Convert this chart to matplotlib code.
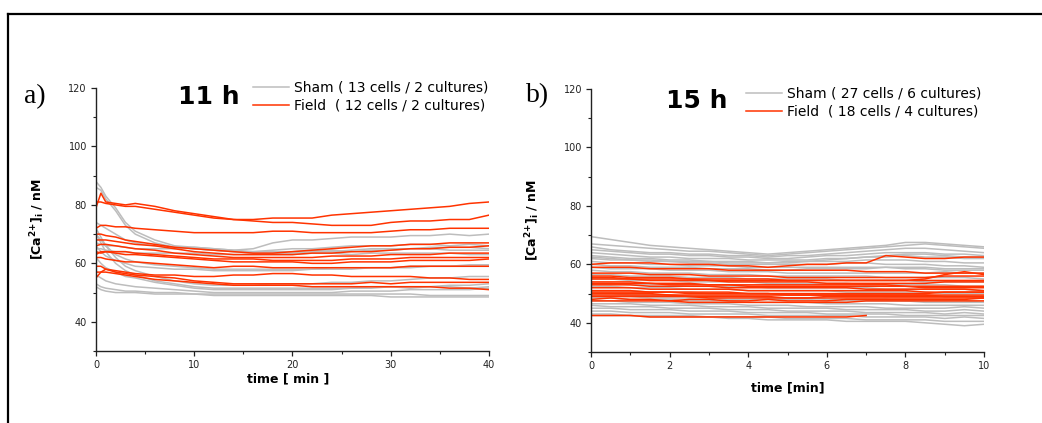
import numpy as np
import matplotlib.pyplot as plt
from matplotlib.lines import Line2D

# panel a: 11 h, time in minutes
t_a = [0, 0.5, 1, 2, 3, 4, 6, 8, 10, 12, 14, 16, 18, 20, 22, 24, 26, 28, 30, 32, 34, 36, 38, 40]

sham_a = [
    [88, 86, 83, 79, 74, 71, 68, 66, 65.5, 65, 64.5, 65, 67, 68, 68, 68.5, 69, 69, 69, 69.5, 69.5, 70, 69.5, 70],
    [86, 85, 82, 78, 73, 70, 67, 65.5, 65, 64.5, 64, 64, 64.5, 65, 65, 65.5, 66, 66, 66, 66.5, 66.5, 66, 66.5, 66],
    [74, 73, 72, 70, 68, 67, 66, 65.5, 65, 64.5, 64, 63.5, 63.5, 63.5, 64, 64, 64.5, 65, 65, 65, 65.5, 65.5, 65.5, 65],
    [67, 66.5, 66, 66, 65.5, 65, 65, 65, 65.5, 65, 64.5, 64, 64, 64, 64.5, 64.5, 64, 64.5, 64.5, 65, 65, 64.5, 64.5, 64.5],
    [65, 65, 64.5, 64, 64, 63.5, 63.5, 63.5, 63.5, 63, 63, 63, 63, 63, 63.5, 63.5, 63, 63.5, 63.5, 63.5, 63.5, 63.5, 63, 63],
    [70, 68, 66, 63, 61.5, 60.5, 59.5, 59, 58.5, 58, 58, 58, 58, 58, 58, 58.5, 58.5, 58.5, 58.5, 59, 59, 59, 59.5, 59.5],
    [66, 64, 62.5, 61, 60, 59, 58.5, 58, 58, 57.5, 57.5, 57.5, 57.5, 57.5, 58, 58, 58, 58.5, 58.5, 58.5, 59, 59, 59, 59],
    [72, 69, 66, 62, 59, 57.5, 55.5, 54, 53, 52.5, 52.5, 52.5, 53, 53, 53, 53.5, 53.5, 54, 54, 54.5, 55, 55, 55.5, 55.5],
    [70, 67, 64, 60, 57.5, 56, 54, 53, 52, 51.5, 51.5, 51.5, 51.5, 51.5, 51.5, 51.5, 51.5, 52, 52, 52, 52, 52.5, 52.5, 53],
    [62, 60, 58.5, 57, 55.5, 55, 53.5, 52.5, 51.5, 51, 51, 51, 51, 51, 51, 51, 51.5, 51.5, 52, 51.5, 52, 52, 51.5, 52],
    [56, 55, 54, 53, 52.5, 52, 51.5, 51, 50.5, 50, 50, 50, 50, 50, 50, 50, 50.5, 50.5, 50.5, 51, 51, 51, 51, 51.5],
    [53, 52, 51.5, 51, 50.5, 50.5, 50, 50, 49.5, 49.5, 49.5, 49.5, 49.5, 49.5, 49.5, 49.5, 49.5, 49.5, 49.5, 49.5, 49, 49, 49, 49],
    [52, 51, 50.5, 50, 50, 50, 49.5, 49.5, 49.5, 49, 49, 49, 49, 49, 49, 49, 49, 49, 48.5, 48.5, 48.5, 48.5, 48.5, 48.5],
]

field_a = [
    [79, 84, 81, 80.5, 80, 80.5, 79.5, 78, 77, 76, 75, 75, 75.5, 75.5, 75.5, 76.5, 77, 77.5, 78, 78.5, 79, 79.5, 80.5, 81],
    [81, 81, 80.5, 80, 79.5, 79.5, 78.5, 77.5, 76.5, 75.5, 75, 74.5, 74, 74, 73.5, 73, 73, 73, 74, 74.5, 74.5, 75, 75, 76.5],
    [72, 73, 73, 72.5, 72.5, 72, 71.5, 71, 70.5, 70.5, 70.5, 70.5, 71, 71, 70.5, 70.5, 70.5, 70.5, 71, 71.5, 71.5, 72, 72, 72],
    [70, 70, 69.5, 69, 68, 67.5, 66.5, 65.5, 65, 64.5, 64, 63.5, 63.5, 64, 64.5, 65, 65.5, 66, 66, 66.5, 66.5, 67, 67, 67],
    [68, 68, 68, 67.5, 67, 66.5, 66, 65, 64, 63.5, 63, 63, 63, 63, 63.5, 63.5, 64, 64, 64.5, 65, 65, 65.5, 65.5, 66],
    [66, 66.5, 66.5, 66, 65.5, 65, 64.5, 63.5, 63, 62.5, 62, 62, 62, 62, 62, 62.5, 62.5, 62.5, 63, 63, 63, 63.5, 63.5, 63.5],
    [64, 63.5, 64, 64, 64, 63.5, 63, 62.5, 62, 61.5, 61.5, 61.5, 61, 61, 61, 61, 61.5, 61.5, 61.5, 62, 62, 62, 62, 62],
    [63, 64, 64, 63.5, 63, 63, 62.5, 62, 61.5, 61, 60.5, 60.5, 60.5, 60.5, 60, 60, 60.5, 60.5, 60.5, 61, 61, 61, 61, 61.5],
    [62, 62, 61.5, 61, 60.5, 60.5, 60, 59.5, 59, 58.5, 59, 59, 58.5, 58.5, 58.5, 58.5, 58.5, 58.5, 58.5, 59, 59, 59, 59, 59],
    [55, 57, 58, 57.5, 57, 56.5, 56, 56, 55.5, 55.5, 56, 56, 56.5, 56.5, 56, 56, 55.5, 55.5, 55.5, 55.5, 55, 55, 54.5, 54.5],
    [59, 59, 58, 57, 56.5, 56, 55.5, 55, 54, 53.5, 53, 53, 53, 53, 53, 53, 53, 53.5, 53, 53.5, 53.5, 53.5, 53.5, 53.5],
    [57, 57, 57, 56.5, 56, 55.5, 54.5, 54, 53.5, 53, 52.5, 52.5, 52.5, 52.5, 52, 52, 52, 52, 52, 52, 52, 51.5, 51.5, 51],
]

# panel b: 15 h
t_b = [0, 0.5, 1, 1.5, 2, 2.5, 3, 3.5, 4, 4.5, 5, 5.5, 6, 6.5, 7, 7.5, 8, 8.5, 9, 9.5, 10]

sham_b = [
    [69.5, 68.5, 67.5, 66.5, 66, 65.5, 65, 64.5, 64, 63.5, 64, 64.5, 65, 65.5, 66, 66.5, 67.5, 67.5, 67, 66.5, 66],
    [67, 66.5, 66, 65.5, 65, 64.5, 64.5, 64, 63.5, 63, 63.5, 64, 64.5, 65, 65.5, 66, 66.5, 67, 66.5, 66, 65.5],
    [66, 65, 64.5, 64, 64, 63.5, 63.5, 63, 63, 62.5, 63, 63, 63.5, 64, 64.5, 65, 65.5, 65.5, 65, 64.5, 64],
    [65, 64.5, 64, 63.5, 63.5, 63, 63, 62.5, 62.5, 62, 62, 62.5, 63, 63, 63.5, 64, 64, 64, 63.5, 63.5, 63],
    [64, 63.5, 63, 62.5, 62.5, 62, 62, 62, 61.5, 61.5, 61.5, 61.5, 62, 62, 62.5, 62.5, 63, 62.5, 62.5, 62, 62],
    [63, 62.5, 62, 62, 61.5, 61.5, 61, 61, 61, 60.5, 60.5, 61, 61, 61, 61.5, 61.5, 61.5, 61, 61, 60.5, 60.5],
    [62.5, 62, 61.5, 61.5, 61, 61, 61, 60.5, 60.5, 60.5, 61, 61, 61.5, 62, 62.5, 63, 63.5, 63.5, 63, 62.5, 62.5],
    [62, 61.5, 61.5, 61, 61, 60.5, 60.5, 60, 60, 60, 60, 60, 60, 60.5, 60.5, 60, 60, 60, 59.5, 59.5, 59],
    [61, 60.5, 60.5, 60, 60, 59.5, 59.5, 59.5, 59, 59, 59, 59, 59, 59, 59, 59, 58.5, 58.5, 58, 58, 58],
    [60, 59.5, 59.5, 59, 59, 59, 58.5, 58.5, 58.5, 58, 58, 58.5, 58.5, 58.5, 58.5, 59, 59, 59, 58.5, 58.5, 58.5],
    [59, 58.5, 58.5, 58.5, 58, 58, 58, 57.5, 57.5, 57.5, 57, 57, 57, 57, 57, 57, 57, 57, 57.5, 57, 57],
    [58, 57.5, 57.5, 57, 57, 57, 56.5, 56.5, 56.5, 56, 56, 56, 56, 56, 56, 55.5, 55.5, 55.5, 55.5, 55.5, 55],
    [56.5, 56.5, 56, 56, 56, 55.5, 55.5, 55.5, 55, 55, 55, 55, 55, 54.5, 54.5, 54.5, 54.5, 54, 54, 54, 54],
    [55, 55, 54.5, 54.5, 54.5, 54, 54, 54, 54, 53.5, 53.5, 53.5, 53.5, 53.5, 53, 53, 53, 53, 53, 52.5, 52.5],
    [53.5, 53.5, 53, 53, 53, 52.5, 52.5, 52.5, 52.5, 52, 52, 52, 52, 52, 52, 51.5, 51.5, 51.5, 51.5, 51.5, 51],
    [52.5, 52.5, 52, 52, 52, 51.5, 51.5, 51.5, 51, 51, 51, 51, 51, 50.5, 50.5, 50.5, 50.5, 50.5, 50, 50, 50],
    [51, 51, 51, 50.5, 50.5, 50.5, 50, 50, 50, 50, 49.5, 49.5, 49.5, 49.5, 49.5, 49, 49, 49, 49, 49, 48.5],
    [50, 50, 49.5, 49.5, 49.5, 49, 49, 49, 49, 48.5, 48.5, 48.5, 48, 48, 48, 48, 47.5, 47.5, 47.5, 47.5, 47],
    [49, 49, 49, 48.5, 48.5, 48.5, 48.5, 48, 48, 48, 48, 48, 47.5, 47.5, 47.5, 47.5, 47.5, 47, 47, 47, 47],
    [48.5, 48.5, 48, 48, 48, 47.5, 47.5, 47.5, 47, 47, 47, 47, 46.5, 46.5, 46.5, 46.5, 46, 46, 46, 46, 46],
    [47.5, 47.5, 47, 47, 47, 46.5, 46.5, 46.5, 46, 46, 46, 45.5, 45.5, 45.5, 45.5, 45, 45, 45, 45, 45.5, 45],
    [46.5, 46.5, 46.5, 46, 46, 46, 45.5, 45.5, 45.5, 45, 45, 45, 45, 44.5, 44.5, 44.5, 44.5, 44, 44, 44.5, 44],
    [46, 45.5, 45.5, 45.5, 45, 45, 45, 44.5, 44.5, 44.5, 44, 44, 44, 44, 43.5, 43.5, 43.5, 43.5, 43, 43.5, 43],
    [45, 45, 44.5, 44.5, 44.5, 44, 44, 44, 43.5, 43.5, 43.5, 43.5, 43, 43, 43, 43, 42.5, 42.5, 42.5, 42.5, 42.5],
    [44, 44, 43.5, 43.5, 43.5, 43, 43, 43, 43, 42.5, 42.5, 42.5, 42.5, 42.5, 42, 42, 42, 42, 41.5, 42, 41.5],
    [43, 43, 42.5, 42.5, 42.5, 42.5, 42, 42, 42, 42, 41.5, 41.5, 41.5, 41.5, 41, 41, 41, 41, 40.5, 40.5, 40.5],
    [42.5, 42.5, 42.5, 42, 42, 42, 42, 41.5, 41.5, 41, 41, 41, 41, 40.5, 40.5, 40.5, 40.5, 40, 39.5, 39, 39.5],
]

field_b = [
    [60, 60.5, 60.5, 60.5, 60, 60, 60, 59.5, 59.5, 59, 59.5, 60, 60, 60.5, 60.5, 63, 62.5, 62, 62, 62.5, 62.5],
    [59, 59, 59, 58.5, 58.5, 58.5, 58.5, 58, 58, 58, 58, 58, 58, 58, 57.5, 57.5, 57.5, 57, 57, 57, 57],
    [57, 57, 57, 56.5, 56.5, 56.5, 56, 56, 56, 56, 55.5, 55.5, 55.5, 55.5, 55.5, 55.5, 55.5, 55.5, 56, 56, 56],
    [56, 56, 55.5, 55.5, 55.5, 55, 55, 55, 55, 55, 54.5, 54.5, 54.5, 54.5, 54.5, 54.5, 54.5, 55, 56.5, 57.5, 56.5],
    [55.5, 55.5, 55, 55, 55, 55, 54.5, 54.5, 54.5, 54.5, 54.5, 54.5, 54.5, 54.5, 54.5, 54.5, 54.5, 54.5, 54.5, 54.5, 54.5],
    [55, 55, 55, 54.5, 54.5, 54.5, 54.5, 54, 54, 54, 54, 54, 53.5, 53.5, 53.5, 53.5, 53.5, 53.5, 54, 54, 54],
    [54, 54, 54, 53.5, 53.5, 53.5, 53, 53, 53, 53, 53, 53, 53, 53, 53, 53, 52.5, 52.5, 52.5, 52.5, 52.5],
    [53.5, 53.5, 53.5, 53.5, 53, 53, 53, 53, 52.5, 52.5, 52.5, 52.5, 52.5, 52.5, 52.5, 52.5, 52.5, 52, 52, 52, 52],
    [53, 53, 53, 52.5, 52.5, 52.5, 52.5, 52, 52, 52, 52, 52, 52, 52, 51.5, 51.5, 51.5, 51.5, 51.5, 51.5, 51],
    [52, 52, 52, 51.5, 51.5, 51.5, 51.5, 51.5, 51, 51, 51, 51, 51, 51, 51, 51, 51, 50.5, 50.5, 50.5, 50.5],
    [51, 51, 51, 50.5, 50.5, 50.5, 50.5, 50.5, 50, 50, 50, 50, 50, 50, 50, 50, 50, 50, 50.5, 50.5, 50.5],
    [50.5, 50.5, 50.5, 50.5, 50.5, 50, 50, 50, 50, 50, 49.5, 49.5, 49.5, 49.5, 49.5, 49.5, 49.5, 49.5, 49, 49, 49],
    [50, 50, 50, 50, 49.5, 49.5, 49.5, 49.5, 49.5, 49.5, 49.5, 49.5, 49.5, 49.5, 49.5, 49.5, 49.5, 49.5, 49.5, 49.5, 49.5],
    [49.5, 49.5, 49.5, 49.5, 49.5, 49, 49, 49, 49, 49, 48.5, 48.5, 48.5, 48.5, 48.5, 48.5, 48.5, 48.5, 48.5, 48.5, 48.5],
    [49, 49, 49, 49, 49, 49, 48.5, 48.5, 48.5, 48.5, 48.5, 48.5, 49, 49, 49, 49, 49, 49, 49, 49, 49],
    [48, 48.5, 48, 48, 47.5, 48, 48, 47.5, 47.5, 48, 47.5, 47.5, 47.5, 48, 48, 48, 48, 48, 48, 48, 48.5],
    [47.5, 47.5, 47.5, 47.5, 47.5, 47, 47, 47, 47, 47, 47, 47, 47, 47, 47.5, 47.5, 47.5, 47.5, 47.5, 47.5, 47.5],
    [42.5, 42.5, 42.5, 42, 42, 42, 42, 42, 42, 42, 42, 42, 42, 42, 42.5, None, None, None, None, None, None],
]

sham_color = '#bdbdbd'
field_color = '#ff3300'

plt.rcParams['mathtext.default'] = 'bf'


def panel(ax, t, sham, field, xticks, xlabel, sham_label, field_label):
    for i, y in enumerate(sham):
        y = np.array(y, dtype=float)
        ax.plot(t, y, color=sham_color, lw=1.1, label=sham_label if i == 0 else None)
    for i, y in enumerate(field):
        y = np.array(y, dtype=float)
        ax.plot(t, y, color=field_color, lw=1.1, label=field_label if i == 0 else None)

    ax.set_xlim(xticks[0], xticks[-1])
    ax.set_ylim(30, 120)
    ax.set_xticks(xticks)
    ax.set_xticks([(a + b) / 2 for a, b in zip(xticks[:-1], xticks[1:])], minor=True)
    ax.set_yticks([40, 60, 80, 100, 120])
    ax.set_yticks([30, 50, 70, 90, 110], minor=True)
    for s in ['top', 'right']:
        ax.spines[s].set_visible(False)
    for s in ['left', 'bottom']:
        ax.spines[s].set_linewidth(1.0)
        ax.spines[s].set_color('#222222')
    ax.tick_params(which='major', direction='out', length=3.5, width=0.9,
                   labelsize=7, colors='#222222', pad=3)
    ax.tick_params(which='minor', direction='out', length=2, width=0.8, colors='#222222')
    ax.set_xlabel(xlabel, fontsize=9, fontweight='bold')
    ax.set_ylabel(r'[Ca$^{2{+}}$]$_{i}$ / nM', fontsize=9, fontweight='bold')


fig = plt.figure(figsize=(10.42, 4.23), dpi=100)
ax1 = fig.add_axes([0.0921, 0.1702, 0.3772, 0.6217])
ax2 = fig.add_axes([0.5672, 0.1678, 0.3772, 0.6217])

panel(ax1, t_a, sham_a, field_a, [0, 10, 20, 30, 40], 'time [ min ]',
      'Sham ( 13 cells / 2 cultures)', 'Field  ( 12 cells / 2 cultures)')
panel(ax2, t_b, sham_b, field_b, [0, 2, 4, 6, 8, 10], 'time [min]',
      'Sham ( 27 cells / 6 cultures)', 'Field  ( 18 cells / 4 cultures)')

ax1.yaxis.set_label_coords(-0.125, 0.5)
ax2.yaxis.set_label_coords(-0.125, 0.5)
ax1.xaxis.set_label_coords(0.49, -0.082)
ax2.xaxis.set_label_coords(0.5, -0.112)

leg_kw = dict(loc='upper left', frameon=False, fontsize=10, handlelength=2.6,
              handletextpad=0.35, labelspacing=0.3, borderpad=0, borderaxespad=0,
              bbox_transform=fig.transFigure)
ax1.legend(bbox_to_anchor=(0.2428, 0.810), **leg_kw)
ax2.legend(bbox_to_anchor=(0.716, 0.795), **leg_kw)

fig.text(0.0336, 0.771, 'a)', family='Liberation Serif', fontsize=20, ha='center', va='center')
fig.text(0.2006, 0.771, '11 h', fontsize=18, fontweight='bold', ha='center', va='center')
fig.text(0.516, 0.773, 'b)', family='Liberation Serif', fontsize=20, ha='center', va='center')
fig.text(0.669, 0.762, '15 h', fontsize=18, fontweight='bold', ha='center', va='center')

# outer frame (top and left edges)
fig.add_artist(Line2D([0.0077, 1.0], [0.967, 0.967], color='black', lw=1.6))
fig.add_artist(Line2D([0.0077, 0.0077], [0.0, 0.967], color='black', lw=1.6))

fig.savefig('out.png', dpi=100)
